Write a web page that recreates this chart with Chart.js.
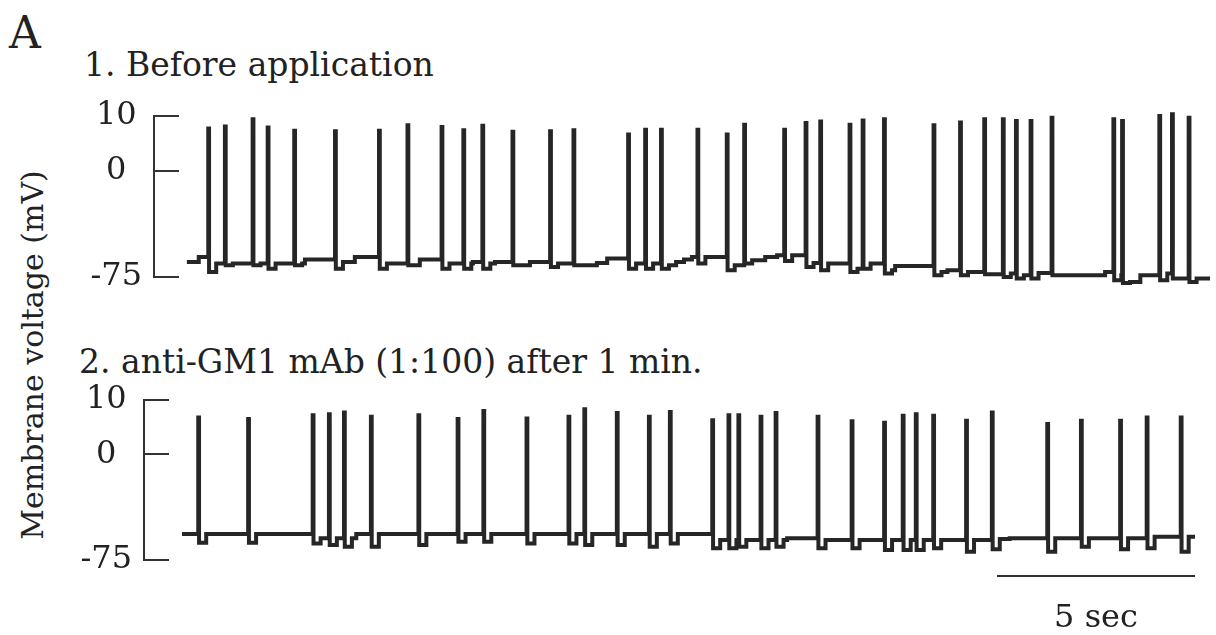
<!DOCTYPE html>
<html lang="en">
<head>
<meta charset="UTF-8">
<title>Membrane voltage traces</title>
<script src="https://cdn.jsdelivr.net/npm/chart.js"></script>
<style>
  body {
    margin: 0;
    width: 1216px;
    height: 635px;
    position: relative;
    overflow: hidden;
    background: #fff;
    color: #222;
    font-family: "DejaVu Serif", serif;
  }
  .txt { position: absolute; line-height: 1; white-space: nowrap; }
  #panelA { left: 9px; top: 11px; font-size: 44px; }
  #title1 { left: 84px; top: 48px; font-size: 33px; }
  #title2 { left: 79px; top: 345px; font-size: 33px; }
  #yTitle { left: 33px; top: 355px; font-size: 30px; transform: translate(-50%, -50%) rotate(-90deg); }
  .panel { position: absolute; left: 0; width: 1216px; }
  #topBox { top: 0; height: 347px; }
  #botBox { top: 330px; height: 305px; }
</style>
</head>
<body>

<div class="txt" id="panelA">A</div>
<div class="txt" id="title1">1. Before application</div>
<div class="txt" id="title2">2. anti-GM1 mAb (1:100) after 1 min.</div>
<div class="txt" id="yTitle">Membrane voltage (mV)</div>
<div class="panel" id="topBox"><canvas id="topChart"></canvas></div>
<div class="panel" id="botBox"><canvas id="botChart"></canvas></div>

<script>
// times in seconds from the start of each sweep, voltages in mV
const yTicks = [-75, 0, 10];

// 1. before application
const topSpikeTimes = [0.54, 0.96, 1.66, 2.04, 2.71, 3.74, 4.85, 5.57, 6.43, 6.98, 7.46, 8.22, 9.17, 9.76, 11.14, 11.57, 11.97, 12.89, 13.63, 14.07, 15.08, 15.62, 15.99, 16.73, 17.06, 17.60, 18.85, 19.52, 20.13, 20.60, 20.93, 21.30, 21.83, 23.39, 23.61, 24.55, 24.87, 25.29];
const topSpikePeaks = [7.7, 8.1, 9.4, 7.9, 7.3, 7.2, 7.3, 8.3, 8.0, 7.4, 8.2, 7.1, 7.2, 7.4, 6.6, 7.5, 7.5, 7.5, 6.6, 8.4, 7.5, 8.7, 9.0, 8.4, 9.2, 9.4, 8.3, 8.8, 9.4, 9.4, 9.1, 9.1, 9.7, 9.4, 9.1, 10.0, 10.3, 9.7];
const topSpikeTroughs = [-71.5, -66.7, -66.7, -69.1, -66.7, -69.1, -69.1, -66.7, -69.1, -69.1, -69.1, -66.7, -67.9, -66.7, -69.1, -69.1, -69.1, -65.5, -70.3, -65.5, -63.7, -67.9, -70.3, -71.5, -69.1, -72.6, -73.8, -73.8, -73.1, -75.0, -76.1, -76.1, -73.8, -77.3, -79.2, -77.3, -76.1, -78.5];
const topRestTimes = [0, 0.30, 0.60, 2.98, 3.74, 4.24, 4.85, 5.57, 5.88, 6.43, 7.22, 7.46, 7.78, 8.22, 8.66, 9.17, 9.76, 10.35, 10.61, 11.14, 12.15, 12.35, 12.55, 12.75, 13.63, 14.09, 14.60, 14.90, 15.62, 15.99, 16.73, 17.17, 17.60, 17.88, 18.85, 19.20, 19.52, 20.13, 20.78, 20.93, 21.30, 21.44, 21.83, 23.18, 23.39, 23.61, 24.07, 24.55, 24.87];
const topRestLevels = [-64.4, -60.8, -65.5, -62.7, -64.4, -60.8, -65.5, -66.7, -62.7, -65.5, -64.4, -65.5, -64.4, -66.7, -64.4, -65.5, -66.7, -65.1, -62.0, -65.5, -66.7, -64.4, -62.7, -60.8, -66.7, -63.2, -60.8, -59.6, -65.1, -65.5, -69.1, -65.5, -70.3, -67.3, -71.5, -70.3, -71.5, -73.1, -72.6, -73.8, -72.6, -72.1, -73.8, -71.5, -73.8, -78.5, -73.8, -72.6, -76.1];
const topEnd = 25.83;

// 2. anti-GM1 mAb (1:100) after 1 min
const botSpikeTimes = [0.41, 1.67, 3.30, 3.71, 4.09, 4.77, 5.97, 6.96, 7.61, 8.70, 9.76, 10.16, 10.98, 11.79, 12.32, 13.39, 13.80, 14.05, 14.61, 14.99, 16.05, 16.91, 17.73, 18.20, 18.53, 18.97, 19.80, 20.45, 21.85, 22.70, 23.69, 24.36, 25.22];
const botSpikePeaks = [6.8, 6.5, 7.2, 7.4, 7.7, 6.9, 7.2, 6.5, 8.0, 6.6, 6.9, 8.3, 7.6, 6.9, 7.8, 6.3, 7.2, 7.2, 6.9, 7.6, 6.9, 6.1, 5.8, 7.1, 7.4, 7.1, 6.2, 7.7, 5.6, 6.2, 6.2, 6.8, 6.8];
const botSpikeTroughs = [-62.7, -62.7, -63.2, -64.4, -65.6, -65.6, -64.4, -62.0, -62.0, -63.2, -63.2, -64.4, -64.4, -65.6, -63.2, -66.7, -66.7, -65.6, -66.7, -65.6, -66.7, -66.7, -67.9, -67.9, -67.9, -66.7, -69.1, -67.4, -69.1, -65.6, -67.4, -66.7, -69.1];
const botRestTimes = [0, 3.30, 4.40, 13.39, 15.28, 16.05, 16.91, 20.45, 20.90, 24.36];
const botRestLevels = [-56.5, -59.6, -56.5, -60.8, -59.6, -60.8, -60.8, -60.1, -59.6, -58.5];
const botEnd = 25.58;

// 5 sec scale bar under the second sweep
const scaleBarStart = 20.58;
const scaleBarSeconds = 5;
const scaleBarLevel = -86.4;

// 0..10 mV gets a larger share of the axis than -75..0, like the bracket in the figure
class PiecewiseScale extends Chart.LinearScale {
  getPixelForValue(value) {
    if (value === null || value === undefined) return NaN;
    const at = this.options.breakAt, frac = this.options.breakFrac;
    const dec = value <= at
      ? (value - this.min) / (at - this.min) * frac
      : frac + (value - at) / (this.max - at) * (1 - frac);
    return this.getPixelForDecimal(dec);
  }
  getValueForPixel(pixel) {
    const dec = this.getDecimalForPixel(pixel);
    const at = this.options.breakAt, frac = this.options.breakFrac;
    return dec <= frac
      ? this.min + dec / frac * (at - this.min)
      : at + (dec - frac) / (1 - frac) * (this.max - at);
  }
}
PiecewiseScale.id = 'piecewise';
PiecewiseScale.defaults = Chart.LinearScale.defaults;
Chart.register(PiecewiseScale);

const recovery = 0.2; // s spent at the trough after each spike

function buildTrace(restTimes, restLevels, spikeTimes, peaks, troughs, tEnd) {
  const restAt = t => {
    let v = restLevels[0];
    restTimes.forEach((rt, i) => { if (rt <= t) v = restLevels[i]; });
    return v;
  };
  const pts = [];
  restTimes.forEach((t, i) => {
    const inSpike = spikeTimes.some(s => t >= s && t < s + recovery);
    if (!inSpike) pts.push({ x: t, y: restLevels[i] });
  });
  spikeTimes.forEach((s, i) => {
    const next = i + 1 < spikeTimes.length ? spikeTimes[i + 1] : Infinity;
    pts.push({ x: s, y: peaks[i] });
    pts.push({ x: s + 0.02, y: troughs[i] });
    if (s + recovery < next) pts.push({ x: s + recovery, y: restAt(s + recovery) });
  });
  pts.push({ x: tEnd, y: restAt(tEnd) });
  pts.sort((a, b) => a.x - b.x);
  return pts;
}

function traceDataset(points) {
  return {
    data: points,
    stepped: true,
    borderColor: '#262626',
    borderWidth: 4,
    borderJoinStyle: 'miter',
    pointRadius: 0,
    clip: false
  };
}

function voltageAxis(width) {
  return {
    type: 'piecewise',
    min: -75,
    max: 10,
    breakAt: 0,
    breakFrac: 0.66,
    afterBuildTicks: s => { s.ticks = yTicks.map(v => ({ value: v })); },
    afterFit: s => { s.width = width; },
    border: { display: true, color: '#333', width: 2 },
    grid: { drawOnChartArea: false, tickLength: -25, color: '#333', lineWidth: 2 },
    ticks: {
      autoSkip: false,
      crossAlign: 'center',
      padding: 37,
      color: '#222',
      font: { family: 'DejaVu Serif', size: 32 }
    }
  };
}

const scaleBarLabel = {
  id: 'scaleBarLabel',
  afterDraw(chart) {
    const x = chart.scales.x, y = chart.scales.y, ctx = chart.ctx;
    const cx = (x.getPixelForValue(scaleBarStart) + x.getPixelForValue(scaleBarStart + scaleBarSeconds)) / 2;
    const cy = y.getPixelForValue(scaleBarLevel);
    ctx.save();
    ctx.font = '32px "DejaVu Serif"';
    ctx.fillStyle = '#222';
    ctx.textAlign = 'center';
    ctx.textBaseline = 'alphabetic';
    ctx.fillText(scaleBarSeconds + ' sec', cx, cy + 51);
    ctx.restore();
  }
};

new Chart(document.getElementById('topChart'), {
  type: 'line',
  data: {
    datasets: [traceDataset(buildTrace(topRestTimes, topRestLevels, topSpikeTimes, topSpikePeaks, topSpikeTroughs, topEnd))]
  },
  options: {
    responsive: true,
    maintainAspectRatio: false,
    animation: false,
    events: [],
    layout: { padding: { top: 116, bottom: 70, left: 0, right: 0 } },
    plugins: { legend: { display: false }, tooltip: { enabled: false } },
    scales: {
      x: { type: 'linear', display: false, min: -0.83, max: 25.98 },
      y: voltageAxis(154)
    }
  }
});

new Chart(document.getElementById('botChart'), {
  type: 'line',
  data: {
    datasets: [
      traceDataset(buildTrace(botRestTimes, botRestLevels, botSpikeTimes, botSpikePeaks, botSpikeTroughs, botEnd)),
      {
        data: [{ x: scaleBarStart, y: scaleBarLevel }, { x: scaleBarStart + scaleBarSeconds, y: scaleBarLevel }],
        borderColor: '#333',
        borderWidth: 2,
        pointRadius: 0,
        clip: false
      }
    ]
  },
  options: {
    responsive: true,
    maintainAspectRatio: false,
    animation: false,
    events: [],
    layout: { padding: { top: 70, bottom: 75, left: 0, right: 0 } },
    plugins: { legend: { display: false }, tooltip: { enabled: false } },
    scales: {
      x: { type: 'linear', display: false, min: -0.96, max: 26.11 },
      y: voltageAxis(144)
    }
  },
  plugins: [scaleBarLabel]
});
</script>

</body>
</html>
